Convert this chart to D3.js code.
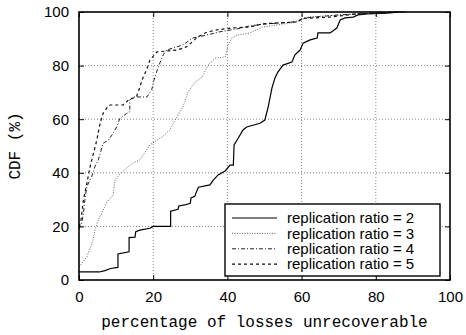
<!DOCTYPE html>
<meta charset="utf-8">
<style>
body { margin: 0; background: #fff; }
.tick text { font-family: "Liberation Sans", Arial, sans-serif; font-size: 15px; fill: #000; }
.axis path { display: none; }
.axis line { stroke: #000; stroke-width: 1; }
.grid line { stroke: #888; stroke-width: 1; stroke-dasharray: 1,2; }
.title { font-family: "Liberation Mono", "Courier New", monospace; font-size: 16px; }
.legend text { font-family: "Liberation Sans", Arial, sans-serif; font-size: 15px; }
</style>
<body>
<script src="https://d3js.org/d3.v7.min.js"></script>
<script>

// tick values
var xTicks = [0, 20, 40, 60, 80, 100];
var yTicks = [0, 20, 40, 60, 80, 100];

var seriesNames = ["replication ratio = 2", "replication ratio = 3",
                   "replication ratio = 4", "replication ratio = 5"];

// CDF points [percentage of losses unrecoverable, CDF %]
var ratio2 = [[0,3],[5.5,3],[7,3.5],[8.5,4.3],[10.5,4.7],[10.5,9.7],[13.5,10.5],[13.5,15.8],[15.1,16],[15.3,18],[16.4,18.6],[19.1,19.3],[20,20],[24.7,20],[24.7,25.7],[26.7,26.4],[26.9,27.6],[28.5,28],[30,28.6],[30.2,30.6],[31.2,31.2],[31.8,33.4],[32.2,34.6],[35.3,35.5],[36.2,37.3],[37.5,39.2],[39.4,40.7],[40.7,42.9],[41.6,42.9],[41.8,50.4],[42.9,52.9],[44.2,56],[45.2,57.1],[48.8,58.5],[50.1,59.7],[51,64.6],[52,71.6],[52.8,75.3],[53.6,77.6],[55,80.2],[57.4,81.3],[58.2,84],[59.6,85.8],[60.4,88.4],[62.3,89.6],[64.2,90.3],[64.4,92.2],[67.7,92.2],[69.5,94],[70.4,97],[71.7,97.8],[73.9,98.1],[75.2,98.9],[77.6,99.3],[83,99.6],[86.5,100],[88,100]];

var ratio3 = [[0,5],[0.3,5.4],[2.1,8.6],[3.8,14.9],[4.3,18.7],[5.2,22.4],[6.5,26.1],[7.5,29.1],[9.2,31.7],[9.7,37.3],[11.5,40.3],[14.6,43.7],[16.4,44.8],[19.1,50.4],[22.4,53.4],[24.5,56],[25.9,59.7],[28,64.6],[29.4,70.1],[31.3,73.9],[33.2,75.7],[34.8,80.2],[36.7,82.8],[39.4,83.2],[40.2,87.7],[41.2,90.3],[42.6,91.4],[46.1,92.2],[49.6,94.4],[58.8,96.3],[61.5,98.1],[70.4,98.9],[79.2,99.6],[86,100]];

var ratio4 = [[0,19],[0.7,21],[1.2,25],[1.6,30],[2.1,34.8],[3.4,38.5],[4.3,42.3],[5.2,44.8],[6.5,51],[7.9,52.2],[9.2,54.7],[10.2,57.2],[11,60.3],[12.9,62.2],[13.7,62.7],[13.7,67.2],[14.6,68.3],[18.3,68.3],[19.6,71],[20.2,74.5],[21,78],[21.8,81],[22.7,84],[23.6,85.8],[28,87.7],[30.7,90.3],[34.5,91.4],[37.5,92.5],[42.6,93.7],[46,94.8],[50,95.5],[58,96.3],[61,97.8],[70,98.9],[79,99.6],[86,100]];

var ratio5 = [[0,20],[0.5,22],[1.2,30],[2.1,36],[3,42.3],[3.9,47.3],[4.8,52.2],[5.7,58.5],[6.5,62.2],[7.9,64.9],[8.4,65.3],[11.9,65.3],[13.2,67],[15.5,68.4],[16.4,72],[17.2,75.4],[18.2,78.4],[19.1,82],[21,85.1],[26.4,85.8],[29,87],[30.5,88.8],[32,90.7],[34.5,92.5],[37.2,93.3],[41,94],[46,94.4],[49.6,95.6],[58.8,96.3],[60.4,97.6],[67.7,98.1],[74.9,99.3],[80.3,99.6],[86,100]];

var series = [ratio2, ratio3, ratio4, ratio5];
var styles = [
  {dash: null,       color: "#000", w: 1.2},
  {dash: "1,1.5",    color: "#666", w: 1},
  {dash: "4,2,1,2",  color: "#222", w: 1},
  {dash: "3,3",      color: "#111", w: 1.2}
];

var W = 466, H = 335;
var x = d3.scaleLinear().domain([0, 100]).range([79, 450]);
var y = d3.scaleLinear().domain([0, 100]).range([280, 12]);

var svg = d3.select("body").append("svg")
    .attr("width", W).attr("height", H);

// grid
svg.append("g").attr("class", "grid")
  .selectAll("line.v").data(xTicks.slice(1, -1)).enter().append("line")
    .attr("x1", d => x(d)).attr("x2", d => x(d))
    .attr("y1", y(0)).attr("y2", y(100));
svg.select(".grid")
  .selectAll("line.h").data(yTicks.slice(1, -1)).enter().append("line")
    .attr("x1", x(0)).attr("x2", x(100))
    .attr("y1", d => y(d)).attr("y2", d => y(d));

// axes (ticks point inward)
svg.append("g").attr("class", "axis")
  .attr("transform", "translate(0," + y(0) + ")")
  .call(d3.axisBottom(x).tickValues(xTicks).tickSizeInner(-5).tickSizeOuter(0).tickPadding(11));
svg.append("g").attr("class", "axis")
  .attr("transform", "translate(" + x(0) + ",0)")
  .call(d3.axisLeft(y).tickValues(yTicks).tickSizeInner(-5).tickSizeOuter(0).tickPadding(10));
svg.append("g").attr("class", "axis")
  .attr("transform", "translate(0," + y(100) + ")")
  .call(d3.axisTop(x).tickValues(xTicks).tickSizeInner(-5).tickSizeOuter(0).tickFormat(""));
svg.append("g").attr("class", "axis")
  .attr("transform", "translate(" + x(100) + ",0)")
  .call(d3.axisRight(y).tickValues(yTicks).tickSizeInner(-5).tickSizeOuter(0).tickFormat(""));

// curves
var line = d3.line().x(d => x(d[0])).y(d => y(d[1]));
svg.append("g").selectAll("path").data(series).enter().append("path")
  .attr("d", line)
  .attr("fill", "none")
  .attr("stroke", (d, i) => styles[i].color)
  .attr("stroke-width", (d, i) => styles[i].w)
  .attr("stroke-dasharray", (d, i) => styles[i].dash);

// frame
svg.append("rect")
  .attr("x", x(0)).attr("y", y(100))
  .attr("width", x(100) - x(0)).attr("height", y(0) - y(100))
  .attr("fill", "none").attr("stroke", "#000").attr("stroke-width", 1.6);

// axis titles
svg.append("text").attr("class", "title")
  .attr("x", (x(0) + x(100)) / 2).attr("y", 327)
  .attr("text-anchor", "middle")
  .text("percentage of losses unrecoverable");
svg.append("text").attr("class", "title")
  .attr("transform", "translate(20," + (y(0) + y(100)) / 2 + ") rotate(-90)")
  .attr("text-anchor", "middle")
  .text("CDF (%)");

// legend
var lg = svg.append("g").attr("class", "legend");
lg.append("rect")
  .attr("x", 225).attr("y", 204).attr("width", 215).attr("height", 72)
  .attr("fill", "#fff").attr("stroke", "#000").attr("stroke-width", 1.4);
var items = lg.selectAll("g.item").data(seriesNames).enter().append("g")
  .attr("transform", (d, i) => "translate(0," + (218 + i * 15.4) + ")");
items.append("line")
  .attr("x1", 232).attr("x2", 277)
  .attr("stroke", (d, i) => styles[i].color)
  .attr("stroke-width", (d, i) => styles[i].w)
  .attr("stroke-dasharray", (d, i) => styles[i].dash);
items.append("text")
  .attr("x", 287).attr("dy", "0.35em")
  .text(d => d);

</script>
</body>
